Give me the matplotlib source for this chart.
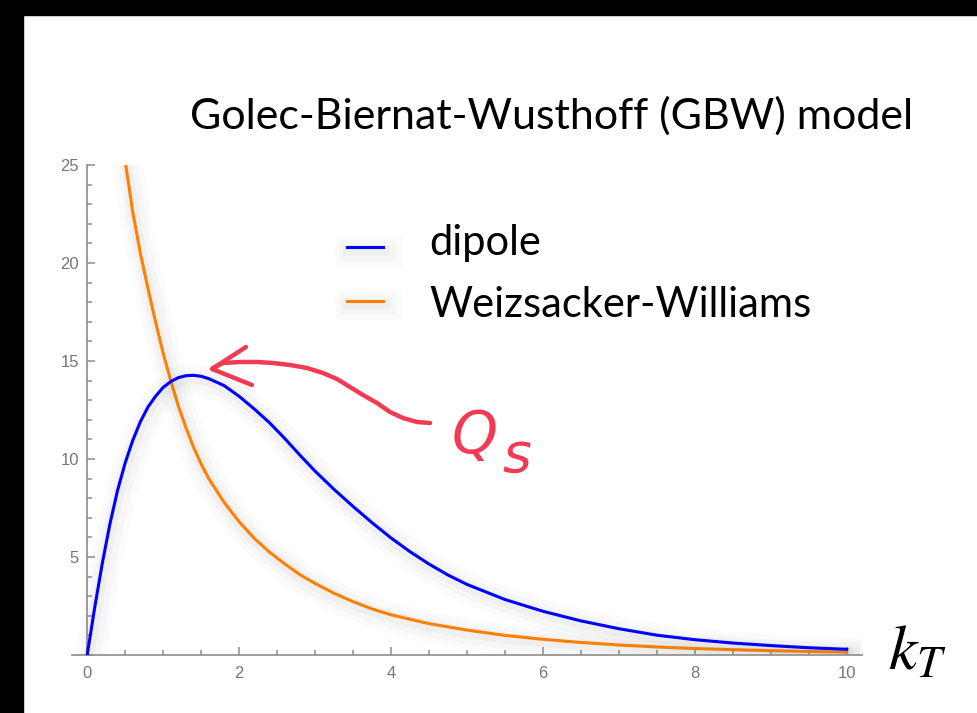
import matplotlib.pyplot as plt
import matplotlib.patheffects as pe
from matplotlib.patches import Rectangle
from matplotlib.ticker import MultipleLocator

# unintegrated gluon distributions in the GBW model
kt_dipole = [0, 0.1, 0.2, 0.3, 0.4, 0.5, 0.6, 0.7, 0.8, 0.9, 1.0, 1.1, 1.2, 1.3, 1.4,
             1.5, 1.6, 1.8, 2.0, 2.2, 2.4, 2.6, 2.8, 3.0, 3.25, 3.5, 3.75, 4.0, 4.25,
             4.5, 4.75, 5.0, 5.5, 6.0, 6.5, 7.0, 7.5, 8.0, 8.5, 9.0, 9.5, 10.0]
dipole = [0, 2.45, 4.7, 6.7, 8.4, 9.8, 10.95, 11.9, 12.65, 13.2, 13.65, 13.95, 14.15,
          14.25, 14.27, 14.22, 14.1, 13.75, 13.2, 12.55, 11.85, 11.05, 10.2, 9.38,
          8.45, 7.58, 6.75, 5.97, 5.27, 4.64, 4.08, 3.6, 2.83, 2.23, 1.74, 1.34, 1.01,
          0.78, 0.61, 0.48, 0.37, 0.29]

kt_ww = [0.45, 0.5, 0.6, 0.7, 0.8, 0.9, 1.0, 1.1, 1.2, 1.3, 1.4, 1.5, 1.6, 1.8, 2.0,
         2.2, 2.4, 2.6, 2.8, 3.0, 3.25, 3.5, 3.75, 4.0, 4.5, 5.0, 5.5, 6.0, 6.5, 7.0,
         7.5, 8.0, 8.5, 9.0, 9.5, 10.0]
ww = [27.0, 25.2, 22.6, 20.5, 18.7, 17.0, 15.4, 14.0, 12.7, 11.6, 10.6, 9.75, 9.0,
      7.8, 6.8, 5.95, 5.25, 4.65, 4.1, 3.65, 3.15, 2.72, 2.35, 2.05, 1.6, 1.27, 1.0,
      0.8, 0.64, 0.51, 0.41, 0.33, 0.27, 0.22, 0.18, 0.15]

labels = ['dipole', 'Weizsacker-Williams']
colors = ['#0000ff', '#ff8000']
x_ticks = [0, 2, 4, 6, 8, 10]
y_ticks = [5, 10, 15, 20, 25]

W, H = 977, 713
fig = plt.figure(figsize=(W / 100, H / 100), dpi=100)
fig.patch.set_facecolor('white')

# dark slide edges
fig.patches.append(Rectangle((0, 0), 23 / W, 1, transform=fig.transFigure,
                             color='black', zorder=0))
fig.patches.append(Rectangle((0, 1 - 15 / H), 1, 15 / H, transform=fig.transFigure,
                             color='black', zorder=0))


def soft_shadow(width):
    return [pe.Stroke(linewidth=width * 10, foreground='0.45', alpha=0.025, offset=(2, -3)),
            pe.Stroke(linewidth=width * 6.5, foreground='0.45', alpha=0.035, offset=(2, -3)),
            pe.Stroke(linewidth=width * 3.5, foreground='0.45', alpha=0.05, offset=(1, -2)),
            pe.Normal()]


ax = fig.add_axes([72 / W, 1 - 655 / H, 790 / W, 490 / H])
ax.set_xlim(-0.2, 10.2)
ax.set_ylim(0, 25)
ax.patch.set_alpha(0)

ax.plot(kt_dipole, dipole, color=colors[0], lw=2.2, path_effects=soft_shadow(2.2),
        zorder=3)
ax.plot(kt_ww, ww, color=colors[1], lw=2.2, path_effects=soft_shadow(2.2), zorder=2)

for side in ['top', 'right']:
    ax.spines[side].set_visible(False)
ax.spines['left'].set_position(('data', 0))
ax.spines['bottom'].set_position(('data', 0))
for side in ['left', 'bottom']:
    ax.spines[side].set_color('#8c8c8c')
    ax.spines[side].set_linewidth(1.2)

ax.set_xticks(x_ticks)
ax.set_yticks(y_ticks)
ax.xaxis.set_minor_locator(MultipleLocator(0.5))
ax.yaxis.set_minor_locator(MultipleLocator(1))
ax.tick_params(which='both', direction='in', color='#8c8c8c', width=1.1,
               labelcolor='#777777', labelsize=12)
ax.tick_params(which='major', length=6)
ax.tick_params(which='minor', length=3.5)
ax.tick_params(axis='x', pad=8)
ax.tick_params(axis='y', pad=6)
for lab in ax.get_xticklabels() + ax.get_yticklabels():
    lab.set_fontfamily('Liberation Sans')

# overlay in pixel units for title, legend and annotation
ov = fig.add_axes([0, 0, 1, 1])
ov.set_xlim(0, W)
ov.set_ylim(H, 0)
ov.axis('off')
ov.patch.set_alpha(0)

ov.text(190, 129, 'Golec-Biernat-Wusthoff (GBW) model', fontsize=31,
        family='Lato', color='black', va='baseline', ha='left')

legend_y = [247, 301]
text_base = [255, 317]
for lab, col, ly, ty in zip(labels, colors, legend_y, text_base):
    ov.plot([347, 383], [ly, ly], color=col, lw=2.2, path_effects=soft_shadow(2.2))
    ov.text(429, ty, lab, fontsize=30, family='Lato', color='black',
            va='baseline', ha='left')

ov.text(888, 670, r'$k_T$', fontsize=46, math_fontfamily='stix', color='black',
        va='baseline', ha='left')

# hand-drawn arrow pointing at the peak
red = '#f23a52'
shaft_x = [430, 417, 403, 390, 377, 363, 350, 337, 323, 307, 290, 273, 257, 240,
           223, 213]
shaft_y = [423, 422, 418, 412, 403, 395, 387, 379, 373, 368, 365, 363, 362, 362,
           363, 368]
ov.plot(shaft_x, shaft_y, color=red, lw=3.2, solid_capstyle='round',
        solid_joinstyle='round')
ov.plot([246, 212, 252], [347, 369, 385], color=red, lw=3.2,
        solid_capstyle='round', solid_joinstyle='round')
ov.text(452, 453, 'Q', fontsize=42, family='DejaVu Sans', style='oblique',
        color=red, va='baseline', ha='left')
ov.text(502, 472, 's', fontsize=40, family='DejaVu Sans', style='oblique',
        color=red, va='baseline', ha='left')

fig.savefig('out.png', dpi=100)
